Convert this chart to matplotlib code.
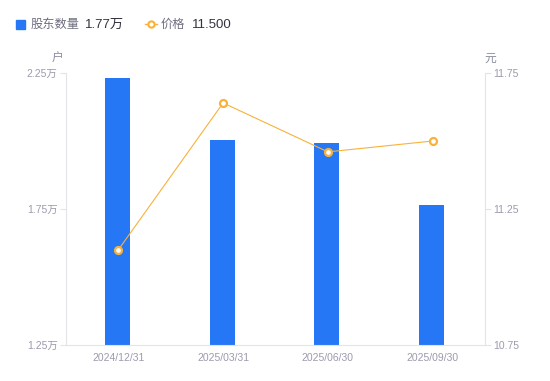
import matplotlib
matplotlib.use("Agg")
import matplotlib.pyplot as plt
import numpy as np

plt.rcParams['font.family'] = ['Liberation Sans', 'Noto Sans CJK SC', 'DejaVu Sans']

dates = ["2024/12/31", "2025/03/31", "2025/06/30", "2025/09/30"]
holders = [2.232, 2.004, 1.993, 1.765]   # 万户
price = [11.10, 11.64, 11.46, 11.50]     # 元
legend_holders = "1.77万"
legend_price = "11.500"

bar_color = "#2677F6"
line_color = "#F8B23C"
axis_color = "#E3E3E8"
tick_text = "#9A9BAE"

fig = plt.figure(figsize=(5.5, 3.81), dpi=100)
ax = fig.add_axes([0.12, 0.0945, 0.7618, 0.7139])
ax2 = ax.twinx()

x = np.arange(len(dates))
ax.bar(x - 0.01, holders, width=0.24, color=bar_color, zorder=2)
ax.set_xlim(-0.5, len(dates) - 0.5)
ax.set_ylim(1.25, 2.25)
ax.set_yticks([1.25, 1.75, 2.25])
ax.set_yticklabels(["1.25万", "1.75万", "2.25万"])
ax.set_xticks(x)
ax.set_xticklabels(dates)

ax2.plot(x, price, color=line_color, lw=0.8, marker="o", ms=5,
         mfc="white", mec=line_color, mew=1.6, zorder=3)
ax2.set_ylim(10.75, 11.75)
ax2.set_yticks([10.75, 11.25, 11.75])

for a in (ax, ax2):
    for s in a.spines.values():
        s.set_visible(False)
    a.tick_params(labelsize=7.5, colors=tick_text, length=4, width=0.8)
    a.tick_params(axis='y', color=axis_color, pad=2)
ax.spines['left'].set_visible(True)
ax.spines['left'].set_color(axis_color)
ax.spines['bottom'].set_visible(True)
ax.spines['bottom'].set_color(axis_color)
ax2.spines['right'].set_visible(True)
ax2.spines['right'].set_color(axis_color)
ax.tick_params(axis='x', length=0, pad=6)

# unit labels
fig.text(58 / 550, 1 - 59 / 381, "户", fontsize=8.5, color="#8A8B9E", ha="center", va="center")
fig.text(490 / 550, 1 - 59 / 381, "元", fontsize=8.5, color="#8A8B9E", ha="center", va="center")

# legend
ly = 1 - 25 / 381
fig.patches.append(plt.Rectangle((16 / 550, 1 - 29 / 381), 9 / 550, 9 / 381,
                                 transform=fig.transFigure, color=bar_color))
fig.text(31 / 550, ly, "股东数量", fontsize=8.8, color="#6E6F80", va="center")
fig.text(85 / 550, ly, legend_holders, fontsize=9.5, color="#333340", va="center")
fig.lines.append(plt.Line2D([145 / 550, 157 / 550], [1 - 24 / 381] * 2, transform=fig.transFigure,
                            color=line_color, lw=1))
fig.lines.append(plt.Line2D([151 / 550], [1 - 24 / 381], transform=fig.transFigure, lw=0,
                            marker="o", ms=4.5, mfc="white", mec=line_color, mew=1.5))
fig.text(161 / 550, ly, "价格", fontsize=8.8, color="#6E6F80", va="center")
fig.text(192 / 550, ly, legend_price, fontsize=9.5, color="#333340", va="center")

fig.savefig("out.png", dpi=100)
